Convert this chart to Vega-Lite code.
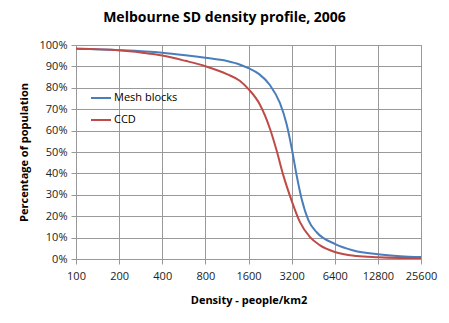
{
  "$schema": "https://vega.github.io/schema/vega-lite/v6.json",
  "width": 345,
  "height": 214,
  "autosize": {"type": "none"},
  "padding": {"left": 76, "top": 45, "right": 28, "bottom": 64},
  "background": "white",
  "title": {
    "text": "Melbourne SD density profile, 2006",
    "font": "Open Sans",
    "fontSize": 14,
    "fontWeight": "bold",
    "color": "#000000",
    "anchor": "middle",
    "dx": -24,
    "offset": 14
  },
  "config": {
    "view": {"stroke": "#999999", "strokeWidth": 1},
    "font": "Open Sans"
  },
  "data": {
    "values": [
      {"series": "Mesh blocks", "d": 100, "p": 98.2},
      {"series": "Mesh blocks", "d": 200, "p": 97.6},
      {"series": "Mesh blocks", "d": 400, "p": 96.4},
      {"series": "Mesh blocks", "d": 580, "p": 95.2},
      {"series": "Mesh blocks", "d": 800, "p": 94.0},
      {"series": "Mesh blocks", "d": 1130, "p": 92.5},
      {"series": "Mesh blocks", "d": 1400, "p": 90.8},
      {"series": "Mesh blocks", "d": 1600, "p": 89.2},
      {"series": "Mesh blocks", "d": 1900, "p": 86.4},
      {"series": "Mesh blocks", "d": 2256, "p": 81.3},
      {"series": "Mesh blocks", "d": 2654, "p": 72.8},
      {"series": "Mesh blocks", "d": 2953, "p": 63.0},
      {"series": "Mesh blocks", "d": 3200, "p": 52.0},
      {"series": "Mesh blocks", "d": 3470, "p": 39.0},
      {"series": "Mesh blocks", "d": 3760, "p": 28.0},
      {"series": "Mesh blocks", "d": 4187, "p": 18.2},
      {"series": "Mesh blocks", "d": 4788, "p": 12.5},
      {"series": "Mesh blocks", "d": 6400, "p": 7.1},
      {"series": "Mesh blocks", "d": 8647, "p": 4.0},
      {"series": "Mesh blocks", "d": 12800, "p": 2.2},
      {"series": "Mesh blocks", "d": 18340, "p": 1.3},
      {"series": "Mesh blocks", "d": 25600, "p": 0.9},
      {"series": "CCD", "d": 100, "p": 98.2},
      {"series": "CCD", "d": 200, "p": 97.5},
      {"series": "CCD", "d": 290, "p": 96.4},
      {"series": "CCD", "d": 400, "p": 95.1},
      {"series": "CCD", "d": 580, "p": 92.6},
      {"series": "CCD", "d": 800, "p": 90.1},
      {"series": "CCD", "d": 1130, "p": 86.4},
      {"series": "CCD", "d": 1390, "p": 83.3},
      {"series": "CCD", "d": 1600, "p": 79.4},
      {"series": "CCD", "d": 1920, "p": 72.2},
      {"series": "CCD", "d": 2256, "p": 61.0},
      {"series": "CCD", "d": 2512, "p": 50.8},
      {"series": "CCD", "d": 2797, "p": 39.2},
      {"series": "CCD", "d": 3200, "p": 27.3},
      {"series": "CCD", "d": 3660, "p": 17.2},
      {"series": "CCD", "d": 4300, "p": 10.2},
      {"series": "CCD", "d": 5053, "p": 6.4},
      {"series": "CCD", "d": 6400, "p": 3.3},
      {"series": "CCD", "d": 9126, "p": 1.4},
      {"series": "CCD", "d": 12800, "p": 0.8},
      {"series": "CCD", "d": 25600, "p": 0.3}
    ]
  },
  "mark": {"type": "line", "strokeWidth": 2, "interpolate": "monotone", "clip": true},
  "encoding": {
    "x": {
      "field": "d",
      "type": "quantitative",
      "scale": {"type": "log", "base": 2, "domain": [100, 25600], "nice": false},
      "axis": {
        "values": [100, 200, 400, 800, 1600, 3200, 6400, 12800, 25600],
        "format": "d",
        "title": "Density - people/km2",
        "titleFont": "Open Sans",
        "titleFontSize": 11,
        "titleFontWeight": "bold",
        "titleColor": "#000000",
        "titlePadding": 13,
        "labelFont": "Open Sans",
        "labelFontSize": 11,
        "labelColor": "#222222",
        "labelPadding": 6,
        "labelFlush": false,
        "domainColor": "#999999",
        "tickColor": "#999999",
        "tickSize": 5,
        "gridColor": "#999999",
        "gridOpacity": 1
      }
    },
    "y": {
      "field": "p",
      "type": "quantitative",
      "scale": {"domain": [0, 100], "nice": false},
      "axis": {
        "values": [0, 10, 20, 30, 40, 50, 60, 70, 80, 90, 100],
        "labelExpr": "datum.value + '%'",
        "title": "Percentage of population",
        "titleFont": "Open Sans",
        "titleFontSize": 11,
        "titleFontWeight": "bold",
        "titleColor": "#000000",
        "titlePadding": 10,
        "labelFont": "Open Sans",
        "labelFontSize": 11,
        "labelColor": "#222222",
        "labelPadding": 4,
        "domainColor": "#999999",
        "tickColor": "#999999",
        "tickSize": 5,
        "gridColor": "#999999",
        "gridOpacity": 1
      }
    },
    "color": {
      "field": "series",
      "type": "nominal",
      "sort": ["Mesh blocks", "CCD"],
      "scale": {"domain": ["Mesh blocks", "CCD"], "range": ["#4A7EBB", "#BE4B48"]},
      "legend": {
        "title": null,
        "orient": "none",
        "legendX": 14,
        "legendY": 42,
        "symbolType": "stroke",
        "symbolSize": 400,
        "symbolStrokeWidth": 2,
        "labelFont": "Open Sans",
        "labelFontSize": 11,
        "labelColor": "#000000",
        "rowPadding": 6,
        "labelOffset": 2,
        "fillColor": null
      }
    }
  }
}
